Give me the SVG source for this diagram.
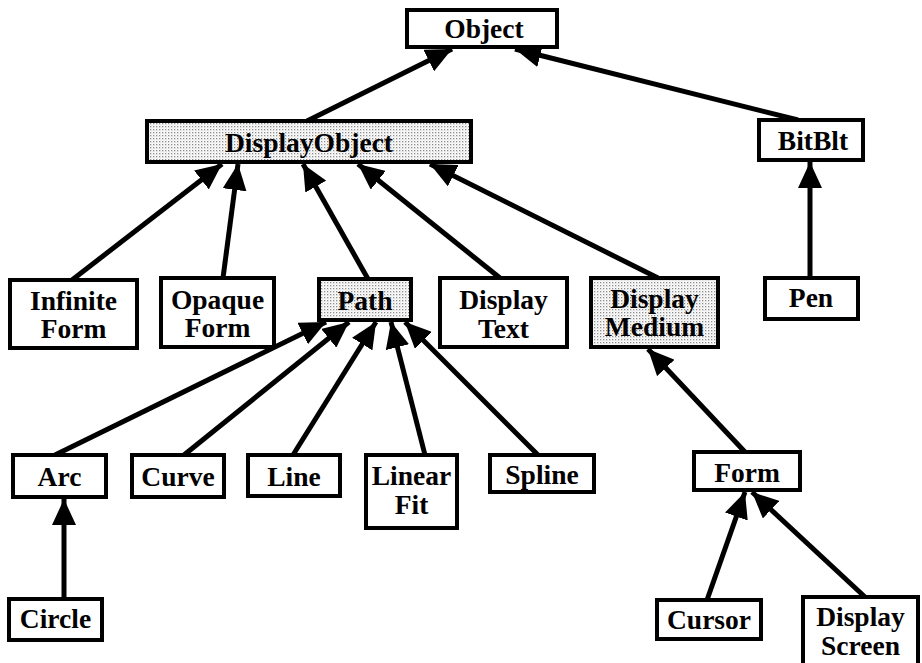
<svg xmlns="http://www.w3.org/2000/svg" width="922" height="663" viewBox="0 0 922 663">
<defs>
<pattern id="dots" width="3" height="3" patternUnits="userSpaceOnUse">
<rect width="3" height="3" fill="#ffffff"/>
<rect x="0" y="0" width="1.3" height="1.3" fill="#8a8a8a"/>
<rect x="1.5" y="1.5" width="1" height="1" fill="#c8c8c8"/>
</pattern>
<marker id="arrow" markerUnits="userSpaceOnUse" markerWidth="28" markerHeight="24" refX="26" refY="12" orient="auto">
<path d="M0,0 L26,12 L0,24 z" fill="#000"/>
</marker>
<style>
.box{fill:#ffffff;stroke:#000;stroke-width:4}
.shade{fill:url(#dots);stroke:#000;stroke-width:4}
.lbl{font-family:"Liberation Serif","Times New Roman",serif;font-weight:bold;font-size:27.5px;text-anchor:middle;fill:#000}
.edge{stroke:#000;stroke-width:5;fill:none;marker-end:url(#arrow)}
</style>
</defs>
<rect width="922" height="663" fill="#ffffff"/>
<g id="connectors">
<line class="edge" x1="307" y1="121" x2="452" y2="49"/>
<line class="edge" x1="798" y1="120" x2="515" y2="49"/>
<line class="edge" x1="72" y1="280" x2="222" y2="164"/>
<line class="edge" x1="223" y1="278" x2="238" y2="164"/>
<line class="edge" x1="368" y1="279" x2="303" y2="164"/>
<line class="edge" x1="500" y1="278" x2="358" y2="164"/>
<line class="edge" x1="658" y1="278" x2="430" y2="164"/>
<line class="edge" x1="810" y1="278" x2="810" y2="162"/>
<line class="edge" x1="55" y1="455" x2="326" y2="322"/>
<line class="edge" x1="184" y1="455" x2="349" y2="322"/>
<line class="edge" x1="293" y1="455" x2="376" y2="322"/>
<line class="edge" x1="425" y1="455" x2="391" y2="322"/>
<line class="edge" x1="538" y1="455" x2="405" y2="322"/>
<line class="edge" x1="745" y1="452" x2="648" y2="349"/>
<line class="edge" x1="64" y1="599" x2="64" y2="499"/>
<line class="edge" x1="707" y1="600" x2="745" y2="492"/>
<line class="edge" x1="865" y1="597" x2="752" y2="492"/>
</g>
<g id="Object"><rect class="box" x="407" y="10" width="150" height="37"/><text class="lbl" x="484" y="38">Object</text></g>
<g id="DisplayObject"><rect class="shade" x="147" y="121" width="324" height="41"/><text class="lbl" x="309" y="152">DisplayObject</text></g>
<g id="BitBlt"><rect class="box" x="759" y="120" width="104" height="40"/><text class="lbl" x="813" y="150">BitBlt</text></g>
<g id="InfiniteForm"><rect class="box" x="10" y="280" width="127" height="68"/><text class="lbl" x="73.5" y="310">Infinite</text><text class="lbl" x="73.5" y="338">Form</text></g>
<g id="OpaqueForm"><rect class="box" x="161" y="278" width="113" height="69"/><text class="lbl" x="217.5" y="309">Opaque</text><text class="lbl" x="217.5" y="337">Form</text></g>
<g id="Path"><rect class="shade" x="319" y="279" width="92" height="41"/><text class="lbl" x="365" y="310">Path</text></g>
<g id="DisplayText"><rect class="box" x="440" y="278" width="127" height="69"/><text class="lbl" x="503.5" y="309">Display</text><text class="lbl" x="503.5" y="338">Text</text></g>
<g id="DisplayMedium"><rect class="shade" x="591" y="278" width="127" height="69"/><text class="lbl" x="654.5" y="308">Display</text><text class="lbl" x="654.5" y="336">Medium</text></g>
<g id="Pen"><rect class="box" x="765" y="278" width="93" height="41"/><text class="lbl" x="811" y="307">Pen</text></g>
<g id="Arc"><rect class="box" x="13" y="455" width="93" height="42"/><text class="lbl" x="59.5" y="486">Arc</text></g>
<g id="Curve"><rect class="box" x="132" y="455" width="92" height="42"/><text class="lbl" x="178" y="486">Curve</text></g>
<g id="Line"><rect class="box" x="248" y="455" width="92" height="41"/><text class="lbl" x="294" y="486">Line</text></g>
<g id="LinearFit"><rect class="box" x="366" y="455" width="91" height="73"/><text class="lbl" x="411.5" y="485">Linear</text><text class="lbl" x="411.5" y="514">Fit</text></g>
<g id="Spline"><rect class="box" x="490" y="455" width="104" height="37"/><text class="lbl" x="542" y="484">Spline</text></g>
<g id="Form"><rect class="box" x="694" y="452" width="106" height="38"/><text class="lbl" x="747" y="482">Form</text></g>
<g id="Circle"><rect class="box" x="9" y="599" width="93" height="41"/><text class="lbl" x="55.5" y="628">Circle</text></g>
<g id="Cursor"><rect class="box" x="657" y="600" width="104" height="39"/><text class="lbl" x="709" y="629">Cursor</text></g>
<g id="DisplayScreen"><rect class="box" x="803" y="597" width="115" height="76"/><text class="lbl" x="860.5" y="626">Display</text><text class="lbl" x="860.5" y="655">Screen</text></g>
</svg>
